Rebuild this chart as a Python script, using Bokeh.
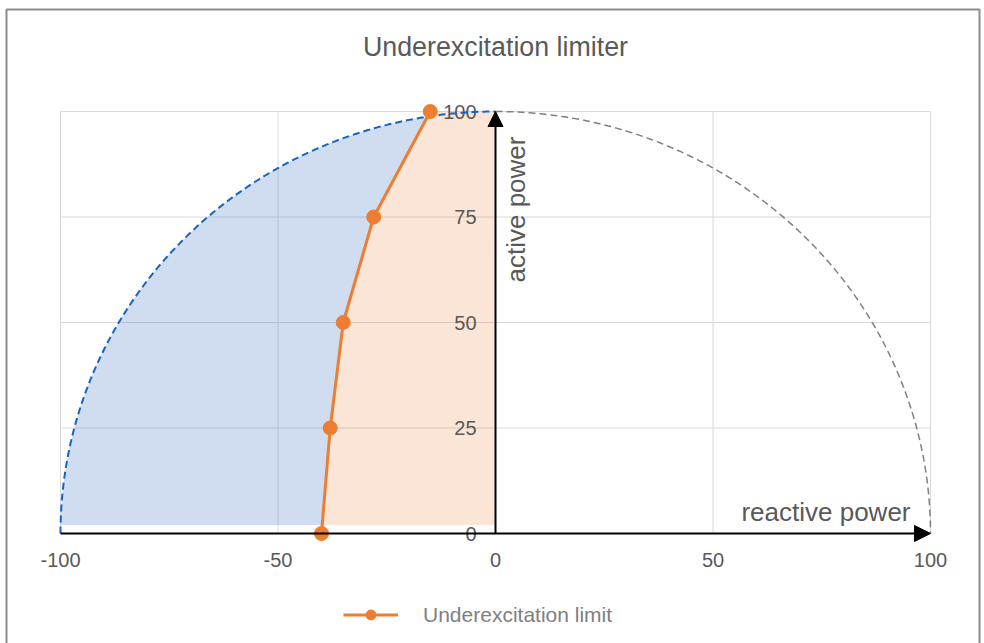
import numpy as np
from bokeh.plotting import figure
from bokeh.models import Range1d, Arrow, NormalHead
from bokeh.core.properties import value
from bokeh.embed import file_html
from bokeh.resources import INLINE

# ---- data ----
title_text = "Underexcitation limiter"
series_name = "Underexcitation limit"
x_label = "reactive power"
y_label = "active power"
ule_q = [-40, -38, -35, -28, -15]      # reactive power of limiter points
ule_p = [0, 25, 50, 75, 100]           # active power of limiter points
x_ticks = [-100, -50, 0, 50, 100]
y_ticks = [0, 25, 50, 75, 100]
rated = 100                            # capability circle radius
fill_base = 2                          # lower edge of shaded areas

# ---- layout (pixels) ----
W, H = 984, 643
fx0, fx1 = 60, 930        # px of x=-100 / x=100
fy_top, fy_bot = 111, 533  # px (from top) of y=100 / y=0
sx = (fx1 - fx0) / 200.0
sy = (fy_bot - fy_top) / 100.0
x_start = -100 - fx0 / sx
x_end = 100 + (W - fx1) / sx
y_end = 100 + fy_top / sy
y_start = -(H - fy_bot) / sy


def px_x(px):
    return -100 + (px - fx0) / sx


def px_y(py):
    return (fy_bot - py) / sy


FONT = value("Liberation Sans")
TXT = "#595959"
GRID = "#D9D9D9"
ORANGE = "#ED7D31"

p = figure(width=W, height=H, x_range=Range1d(x_start, x_end), y_range=Range1d(y_start, y_end),
           x_axis_type=None, y_axis_type=None, toolbar_location=None, output_backend="svg",
           min_border=0, title=None)
p.outline_line_color = None
p.background_fill_color = "white"
p.border_fill_color = "white"

# chart-area border (left, top, right)
p.line([px_x(6), px_x(6), px_x(979), px_x(979)], [y_start, px_y(9), px_y(9), y_start],
       line_color="#8C8C8C", line_width=2)

# gridlines
xmin, xmax = min(x_ticks), max(x_ticks)
ymin, ymax = min(y_ticks), max(y_ticks)
p.segment(x0=x_ticks, y0=[ymin] * len(x_ticks), x1=x_ticks, y1=[ymax] * len(x_ticks),
          line_color=GRID, line_width=1)
p.segment(x0=[xmin] * len(y_ticks), y0=y_ticks, x1=[xmax] * len(y_ticks), y1=y_ticks,
          line_color=GRID, line_width=1)

# shaded regions
q_arr = np.array(ule_q, float)
p_arr = np.array(ule_p, float)
q_base = float(np.interp(fill_base, p_arr, q_arr))
theta = np.linspace(np.pi - np.arcsin(fill_base / rated), np.pi / 2, 2000)
cx = rated * np.cos(theta)
cy = rated * np.sin(theta)
keep = cx <= np.interp(cy, p_arr, q_arr)
cxk, cyk = cx[keep], cy[keep]
y_int = cyk[-1]
blue_x = list(cxk)
blue_y = list(cyk)
blue_x.append(float(np.interp(y_int, p_arr, q_arr)))
blue_y.append(float(y_int))
for qq, pp in zip(q_arr[::-1], p_arr[::-1]):
    if fill_base < pp < y_int:
        blue_x.append(qq); blue_y.append(pp)
blue_x.append(q_base); blue_y.append(fill_base)
p.patch(blue_x, blue_y, fill_color="#4472C4", fill_alpha=0.25, line_color=None)

or_x = [q_base] + [qq for qq, pp in zip(q_arr, p_arr) if pp > fill_base] + [0, 0]
or_y = [fill_base] + [pp for pp in p_arr if pp > fill_base] + [max(ule_p), fill_base]
p.patch(or_x, or_y, fill_color=ORANGE, fill_alpha=0.2, line_color=None)

# tick labels
p.text(x=[0] * len(y_ticks), y=y_ticks, text=[str(t) for t in y_ticks], x_offset=-19,
       text_align="right", text_baseline="middle", text_font=FONT, text_font_size="20px",
       text_color=TXT)
p.text(x=x_ticks, y=[0] * len(x_ticks), text=[str(t) for t in x_ticks], y_offset=26,
       text_align="center", text_baseline="middle", text_font=FONT, text_font_size="20px",
       text_color=TXT)

# capability circle (dashed)
tl = np.linspace(np.pi, np.pi / 2, 300)
p.line(rated * np.cos(tl), rated * np.sin(tl), line_color="#1565C0", line_width=2, line_dash="7 4")
tr = np.linspace(np.pi / 2, 0, 300)
p.line(rated * np.cos(tr), rated * np.sin(tr), line_color="#808080", line_width=1.5, line_dash="7 4")

# axes with arrows
p.add_layout(Arrow(end=NormalHead(size=16, fill_color="black", line_color="black"),
                   x_start=xmin, y_start=0, x_end=xmax, y_end=0, line_color="black", line_width=2))
p.add_layout(Arrow(end=NormalHead(size=15, fill_color="black", line_color="black"),
                   x_start=0, y_start=0, x_end=0, y_end=ymax, line_color="black", line_width=2))

# limiter line
p.line(ule_q, ule_p, line_color=ORANGE, line_width=3, legend_label=series_name)
p.scatter(ule_q, ule_p, marker="circle", size=14, fill_color=ORANGE, line_color=ORANGE,
          legend_label=series_name)

# texts
p.text(x=[0], y=[ymax], text=[title_text], y_offset=-65, text_align="center",
       text_baseline="alphabetic", text_font=FONT, text_font_size="26.8px", text_color=TXT)
p.text(x=[xmax], y=[0], text=[x_label], x_offset=-20, y_offset=-22, text_align="right",
       text_baseline="alphabetic", text_font=FONT, text_font_size="26px", text_color=TXT)
p.text(x=[0], y=[px_y(282)], text=[y_label], x_offset=20, angle=np.pi / 2,
       text_align="left", text_baseline="alphabetic", text_font=FONT, text_font_size="26px",
       text_color=TXT)

lg = p.legend[0]
lg.location = (343, 16)
lg.orientation = "horizontal"
lg.padding = 0
lg.margin = 0
lg.border_line_color = None
lg.background_fill_alpha = 0
lg.glyph_width = 55
lg.glyph_height = 25
lg.label_standoff = 25
lg.label_text_font = "Liberation Sans"
lg.label_text_font_size = "21px"
lg.label_text_color = "#7F7F7F"

open("out.html", "w").write(file_html(p, INLINE))
